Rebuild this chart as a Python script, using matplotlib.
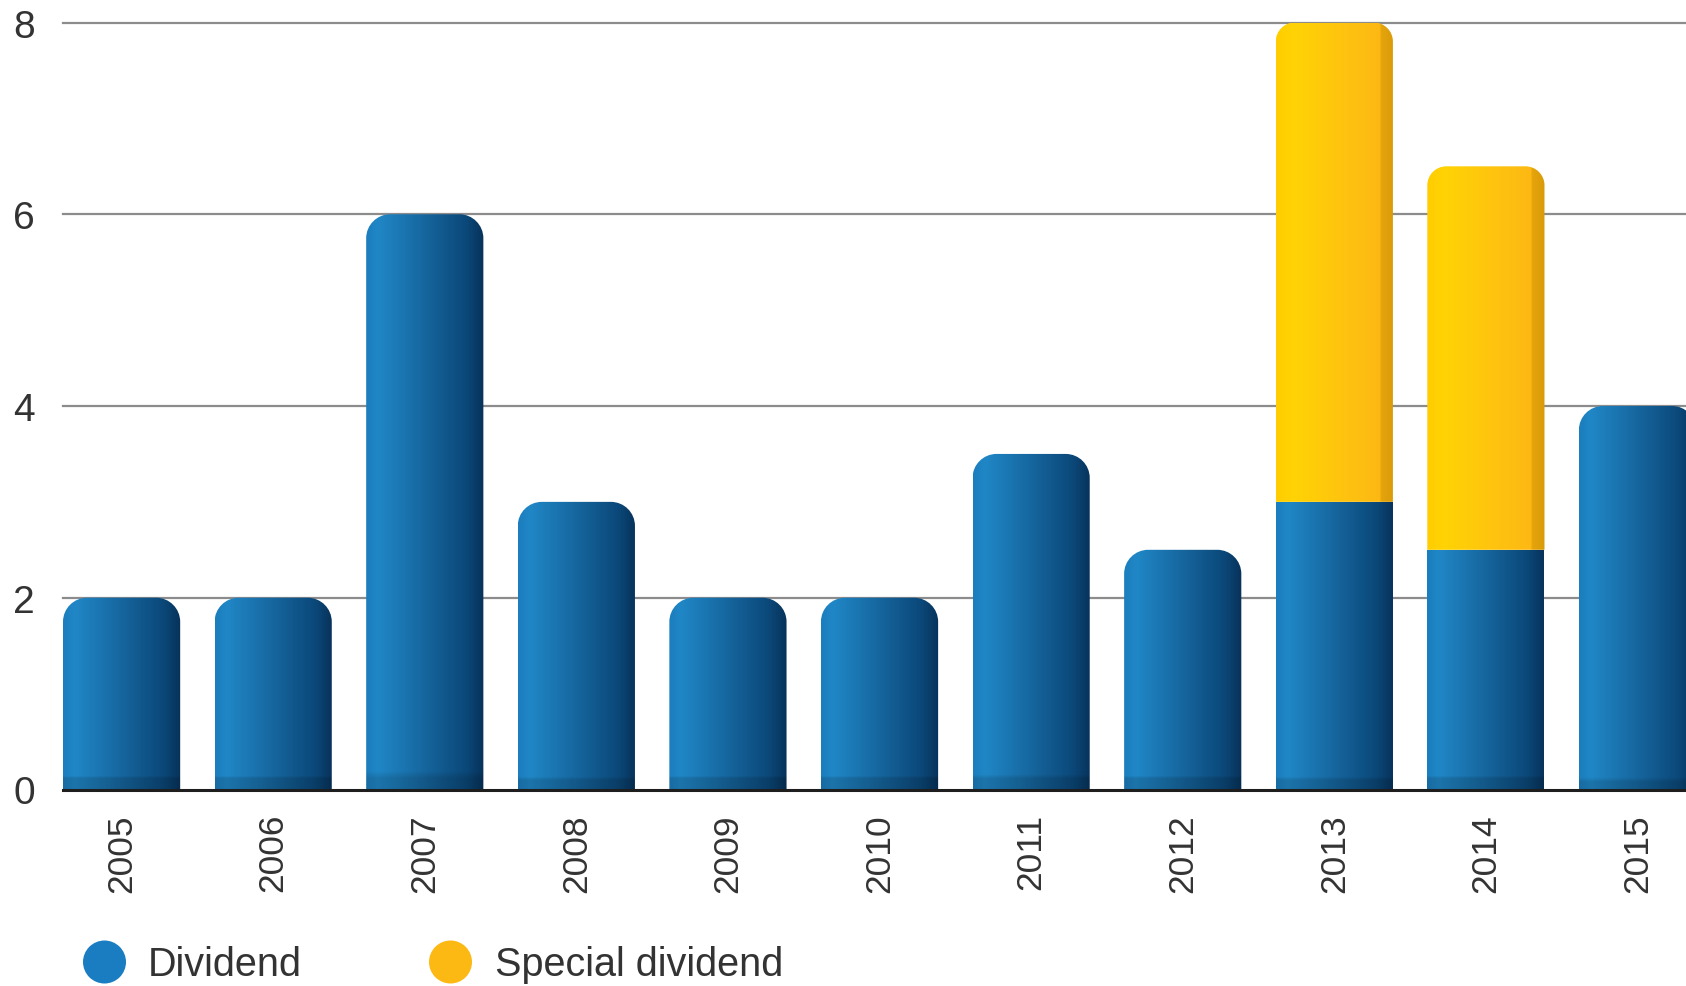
import numpy as np
import matplotlib
matplotlib.use("Agg")
import matplotlib.pyplot as plt
from matplotlib.path import Path
from matplotlib.patches import PathPatch, Ellipse
from matplotlib.colors import to_rgb
from matplotlib import font_manager

years = ['2005', '2006', '2007', '2008', '2009', '2010', '2011', '2012', '2013', '2014', '2015']
dividend = [2, 2, 6, 3, 2, 2, 3.5, 2.5, 3, 2.5, 4]
special = [0, 0, 0, 0, 0, 0, 0, 0, 5, 4, 0]
yticks = [0, 2, 4, 6, 8]
legend_labels = ['Dividend', 'Special dividend']

names = {f.name for f in font_manager.fontManager.ttflist}
narrow = 'Liberation Sans Narrow' if 'Liberation Sans Narrow' in names else None
plt.rcParams['font.family'] = ['Liberation Sans', 'DejaVu Sans']

W, H = 1686, 987
fig = plt.figure(figsize=(W / 100, H / 100), dpi=100)
ax_left, ax_bottom = 63 / W, 1 - 790.5 / H
ax_top = 1 - 23.5 / H
ax = fig.add_axes([ax_left, ax_bottom, 1 - ax_left, ax_top - ax_bottom])

x = np.arange(len(years))
bw = 0.773
ax.set_xlim(-bw / 2, 10.32)
ax.set_ylim(0, 8)

# grid
for t in yticks[1:]:
    ax.axhline(t, color='#8c8c8c', lw=1.6, zorder=0, clip_on=False)

blue_bars = ax.bar(x, dividend, width=bw, color='none', edgecolor='none', zorder=1)
yel_bars = ax.bar(x, special, bottom=dividend, width=bw, color='none', edgecolor='none', zorder=1)

fig.canvas.draw()
p0 = ax.transData.transform((0, 0))
p1 = ax.transData.transform((1, 1))
pxx, pxy = p1[0] - p0[0], p1[1] - p0[1]
K = 0.5523


def bar_path(x0, x1, y0, y1, rad_px):
    if rad_px <= 0:
        verts = [(x0, y0), (x0, y1), (x1, y1), (x1, y0), (x0, y0)]
        codes = [Path.MOVETO, Path.LINETO, Path.LINETO, Path.LINETO, Path.CLOSEPOLY]
        return Path(verts, codes)
    rx = rad_px / pxx
    r_y = min(rad_px / pxy, (y1 - y0))
    verts = [(x0, y0), (x0, y1 - r_y),
             (x0, y1 - r_y + K * r_y), (x0 + rx - K * rx, y1), (x0 + rx, y1),
             (x1 - rx, y1),
             (x1 - rx + K * rx, y1), (x1, y1 - r_y + K * r_y), (x1, y1 - r_y),
             (x1, y0), (x0, y0)]
    codes = [Path.MOVETO, Path.LINETO,
             Path.CURVE4, Path.CURVE4, Path.CURVE4,
             Path.LINETO,
             Path.CURVE4, Path.CURVE4, Path.CURVE4,
             Path.LINETO, Path.CLOSEPOLY]
    return Path(verts, codes)


def gradient(stops, n=240):
    t = np.linspace(0, 1, n)
    pos = [s[0] for s in stops]
    cols = np.array([to_rgb(s[1]) for s in stops])
    out = np.zeros((n, 3))
    for c in range(3):
        out[:, c] = np.interp(t, pos, cols[:, c])
    return out


blue_grad = gradient([(0, '#1b7dbd'), (0.1, '#2087c6'), (0.45, '#176aa3'),
                      (0.85, '#0b4879'), (1, '#07325a')])
yel_grad = gradient([(0, '#ffcd00'), (0.15, '#ffd305'), (0.6, '#fec210'),
                     (0.88, '#fdb913'), (0.895, '#e6a40c'), (1, '#d99b0a')])


def draw_bar(rect, grad, rad_px, shade_bottom):
    x0 = rect.get_x()
    x1 = x0 + rect.get_width()
    y0 = rect.get_y()
    y1 = y0 + rect.get_height()
    if y1 - y0 <= 0:
        return
    ny = 80
    img = np.repeat(grad[None, :, :], ny, axis=0)
    if shade_bottom:
        hpx = (y1 - y0) * pxy
        nb = max(1, int(round(ny * 11 / hpx)))
        img[-nb:] *= 0.86
    im = ax.imshow(img, extent=[x0, x1, y0, y1], aspect='auto',
                   interpolation='bilinear', zorder=2, origin='upper')
    patch = PathPatch(bar_path(x0, x1, y0, y1, rad_px), transform=ax.transData,
                      facecolor='none', edgecolor='none')
    ax.add_patch(patch)
    im.set_clip_path(patch)


for i, r in enumerate(blue_bars):
    draw_bar(r, blue_grad, 24 if special[i] == 0 else 0, True)
for i, r in enumerate(yel_bars):
    draw_bar(r, yel_grad, 19, False)

ax.set_xlim(-bw / 2, 10.32)
ax.set_ylim(0, 8)

ax.axhline(0, color='#1e1e1e', lw=2.2, zorder=3, clip_on=False)

for s in ax.spines.values():
    s.set_visible(False)

ax.set_yticks(yticks)
ax.set_yticklabels([str(t) for t in yticks])
ax.tick_params(axis='y', length=0, pad=20, labelsize=28, labelcolor='#333333')
ax.set_xticks(x)
if narrow:
    ax.set_xticklabels(years, rotation=90, fontsize=30, family=[narrow, 'DejaVu Sans'],
                       color='#333333')
else:
    ax.set_xticklabels(years, rotation=90, fontsize=25.5, color='#333333')
ax.tick_params(axis='x', length=0, pad=17)

# legend
leg_cols = ['#1b7dc1', '#fdb913']
leg_cx = [104.5, 450.5]
leg_tx = [148, 494.5]
leg_y = 963
r = 21.5
for c, cx, tx, lab in zip(leg_cols, leg_cx, leg_tx, legend_labels):
    fig.patches.append(Ellipse((cx / W, 1 - leg_y / H), 2 * r / W, 2 * r / H,
                               transform=fig.transFigure, facecolor=c,
                               edgecolor='none'))
    fig.text(tx / W, 1 - (leg_y + 2) / H, lab, fontsize=28.5, color='#333333',
             va='center', ha='left')

fig.savefig('out.png', dpi=100)
